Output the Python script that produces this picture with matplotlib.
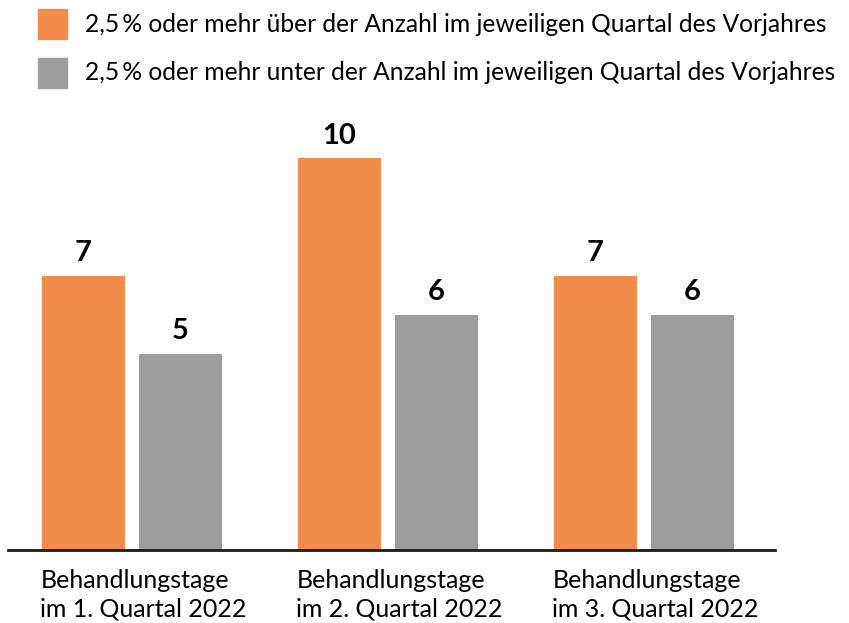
import matplotlib
matplotlib.use("Agg")
import matplotlib.pyplot as plt
from matplotlib.patches import Rectangle

categories = ["Behandlungstage\nim 1. Quartal 2022",
              "Behandlungstage\nim 2. Quartal 2022",
              "Behandlungstage\nim 3. Quartal 2022"]
series_names = ["2,5\u2009% oder mehr über der Anzahl im jeweiligen Quartal des Vorjahres",
                "2,5\u2009% oder mehr unter der Anzahl im jeweiligen Quartal des Vorjahres"]
over_values = [7, 10, 7]
under_values = [5, 6, 6]
colors = ["#F28B4B", "#9D9D9B"]

FONT = ["Lato", "DejaVu Sans"]
plt.rcParams['font.family'] = FONT

W, H = 849, 623
fig = plt.figure(figsize=(W / 100, H / 100), dpi=100)

# axes in pixel coordinates
ax_left, ax_right = 8, 775
ax_bottom, ax_top = 550, 80
ax = fig.add_axes([ax_left / W, 1 - ax_bottom / H, (ax_right - ax_left) / W, (ax_bottom - ax_top) / H])
ax.set_xlim(-0.484, 2.512)
ax.set_ylim(0, 12)

bw = 0.324
off = 0.19
x = list(range(len(categories)))
b1 = ax.bar([i - off for i in x], over_values, width=bw, color=colors[0])
b2 = ax.bar([i + off for i in x], under_values, width=bw, color=colors[1])
for bars, vals in ((b1, over_values), (b2, under_values)):
    for r, v in zip(bars, vals):
        ax.annotate(str(v), (r.get_x() + r.get_width() / 2, v), xytext=(0, 7),
                    textcoords="offset points", ha="center", va="bottom",
                    fontsize=21, fontweight="bold", color="black")

for s in ["top", "right", "left"]:
    ax.spines[s].set_visible(False)
ax.spines["bottom"].set_linewidth(2)
ax.spines["bottom"].set_color("#1a1a1a")
ax.set_yticks([])
ax.set_xticks([])

# category labels, left aligned at the orange bar's left edge
for i, lab in enumerate(categories):
    ax.annotate(lab, (i - off - bw / 2, 0), xytext=(-1, -14), textcoords="offset points",
                ha="left", va="top", fontsize=18.0, linespacing=1.28, color="black",
                annotation_clip=False)

# legend
for k, (name, c) in enumerate(zip(series_names, colors)):
    yc = 24 + k * 49
    fig.patches.append(Rectangle((38 / W, 1 - (yc + 15) / H), 29 / W, 30 / H,
                                 transform=fig.transFigure, color=c))
    fig.text(85 / W, 1 - yc / H, name, ha="left", va="center", fontsize=17.7, color="black")

fig.savefig("out.png", dpi=100)
